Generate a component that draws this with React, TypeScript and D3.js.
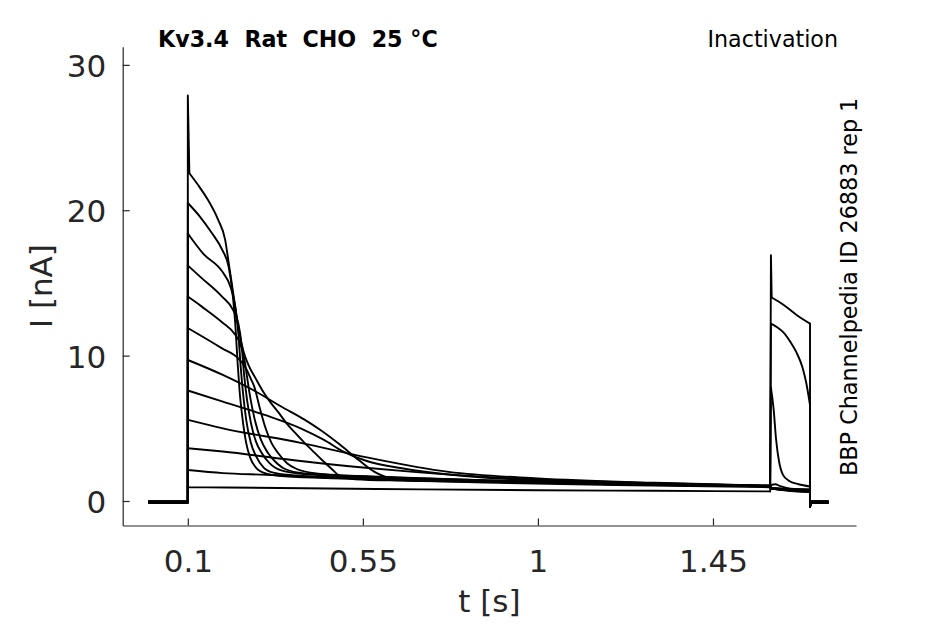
import React, { useEffect, useRef } from 'react';
import * as d3 from 'd3';

type Pt = [number, number];

const timeTicks = [0.1, 0.55, 1, 1.45];
const currentTicks = [0, 10, 20, 30];

// protocol times [s]
const sweepStart = 0;
const prepulseOn = 0.1;
const testOn = 1.599;
const testOff = 1.6995;
const offRecover = 1.703;
const sweepEnd = 1.746;

// holding current per sweep and the small dip at the end of the test pulse [nA]
const holdingCurrents = [-0.02, -0.05, -0.08, -0.1, -0.04, -0.12, -0.06, -0.09, -0.03, -0.11, -0.07, -0.13];
const offDip = -0.38;

// current right at the prepulse onset, one per sweep
const onsetPeaks = [0.94, 2.13, 3.63, 5.58, 7.6, 9.7, 11.9, 14.06, 16.2, 18.4, 20.5, 27.9];
// current right at the test pulse onset
const testPeaks = [16.9, 12.2, 7.8, 1.1, 0.9, 0.9, 0.9, 0.85, 0.85, 0.85, 0.85, 0.85];

// prepulse traces (t [s], I [nA])
const prepulse01: Pt[] = [[0.1, 0.94], [0.2, 0.93], [0.4, 0.88], [0.7, 0.8], [1.0, 0.74], [1.3, 0.7], [1.597, 0.66]];
const prepulse02: Pt[] = [[0.1, 2.13], [0.19, 1.92], [0.3, 1.8], [0.45, 1.62], [0.65, 1.42], [0.9, 1.25], [1.2, 1.1], [1.597, 0.95]];
const prepulse03: Pt[] = [[0.1, 3.63], [0.19, 3.4], [0.39, 2.75], [0.55, 2.3], [0.68, 2.0], [0.9, 1.6], [1.2, 1.3], [1.597, 1.05]];
const prepulse04: Pt[] = [[0.1, 5.58], [0.19, 5.0], [0.39, 4.0], [0.56, 3.0], [0.77, 2.0], [1.0, 1.55], [1.3, 1.25], [1.597, 1.05]];
const prepulse05: Pt[] = [[0.1, 7.6], [0.19, 6.83], [0.3, 5.9], [0.39, 5.0], [0.45, 4.2], [0.5, 3.4], [0.56, 2.75], [0.65, 2.25], [0.82, 1.7], [1.07, 1.35], [1.3, 1.2], [1.597, 1.05]];
const prepulse06: Pt[] = [[0.1, 9.7], [0.19, 8.67], [0.27, 7.6], [0.34, 6.5], [0.4, 5.6], [0.44, 4.9], [0.49, 3.9], [0.54, 2.8], [0.58, 2.0], [0.62, 1.6], [0.75, 1.45], [1.0, 1.3], [1.3, 1.15], [1.597, 1.05]];
const prepulse07: Pt[] = [[0.1, 11.9], [0.188, 10.5], [0.23, 9.8], [0.25, 9.1], [0.262, 8.4], [0.271, 7.85], [0.285, 6.4], [0.3, 5.0], [0.315, 4.0], [0.332, 3.3], [0.355, 2.6], [0.38, 2.2], [0.43, 1.9], [0.6, 1.65], [0.9, 1.4], [1.25, 1.18], [1.597, 1.02]];
const prepulse08: Pt[] = [[0.1, 14.06], [0.136, 13.37], [0.188, 12.3], [0.22, 11.5], [0.235, 10.8], [0.245, 9.8], [0.253, 8.4], [0.26, 7.2], [0.272, 5.6], [0.288, 4.2], [0.306, 3.3], [0.325, 2.7], [0.35, 2.2], [0.4, 1.9], [0.6, 1.65], [0.9, 1.4], [1.25, 1.18], [1.597, 1.02]];
const prepulse09: Pt[] = [[0.1, 16.2], [0.135, 15.35], [0.188, 14.06], [0.215, 13.2], [0.23, 12.2], [0.238, 10.8], [0.245, 8.6], [0.252, 7.0], [0.262, 5.4], [0.275, 4.1], [0.29, 3.3], [0.31, 2.6], [0.34, 2.1], [0.4, 1.85], [0.6, 1.6], [0.9, 1.38], [1.25, 1.17], [1.597, 1.02]];
const prepulse10: Pt[] = [[0.1, 18.4], [0.14, 17.0], [0.188, 15.8], [0.21, 14.7], [0.223, 13.2], [0.23, 11.5], [0.236, 9.2], [0.242, 7.4], [0.25, 5.6], [0.262, 4.0], [0.275, 3.1], [0.295, 2.3], [0.32, 1.95], [0.38, 1.75], [0.55, 1.55], [0.85, 1.35], [1.2, 1.15], [1.597, 1.0]];
const prepulse11: Pt[] = [[0.1, 20.5], [0.13, 19.6], [0.16, 18.5], [0.188, 17.3], [0.205, 16.1], [0.215, 14.3], [0.222, 12.2], [0.228, 9.5], [0.233, 7.6], [0.24, 5.8], [0.25, 4.0], [0.26, 3.0], [0.275, 2.3], [0.3, 1.9], [0.35, 1.7], [0.5, 1.55], [0.8, 1.35], [1.2, 1.15], [1.597, 1.0]];
const prepulse12: Pt[] = [[0.104, 22.55], [0.126, 21.75], [0.152, 20.7], [0.178, 19.34], [0.196, 17.96], [0.205, 16.4], [0.218, 14.06], [0.231, 11.77], [0.243, 10.3], [0.257, 9.3], [0.275, 8.4], [0.291, 7.64], [0.312, 6.8], [0.334, 6.06], [0.355, 5.3], [0.376, 4.68], [0.4, 4.0], [0.419, 3.5], [0.445, 2.82], [0.47, 2.2], [0.491, 1.72], [0.53, 1.5], [0.65, 1.4], [0.9, 1.3], [1.25, 1.12], [1.597, 1.0]];

// test pulse traces
const test01: Pt[] = [[1.601, 14.0], [1.631, 13.5], [1.665, 12.8], [1.6995, 12.2]];
const test02: Pt[] = [[1.599, 12.2], [1.615, 11.95], [1.631, 11.6], [1.65, 10.9], [1.665, 10.2], [1.68, 9.2], [1.69, 8.1], [1.6995, 6.6]];
const test03: Pt[] = [[1.599, 7.8], [1.606, 6.3], [1.612, 4.3], [1.62, 2.7], [1.63, 1.8], [1.645, 1.4], [1.67, 1.15], [1.6995, 1.0]];
const test04: Pt[] = [[1.599, 1.1], [1.61, 1.15], [1.625, 1.0], [1.65, 0.85], [1.6995, 0.8]];
const test05: Pt[] = [[1.599, 0.9], [1.65, 0.82], [1.6995, 0.78]];
const test06: Pt[] = [[1.599, 0.9], [1.65, 0.8], [1.6995, 0.75]];
const test07: Pt[] = [[1.599, 0.9], [1.65, 0.78], [1.6995, 0.72]];
const test08: Pt[] = [[1.599, 0.85], [1.65, 0.76], [1.6995, 0.7]];
const test09: Pt[] = [[1.599, 0.85], [1.65, 0.74], [1.6995, 0.68]];
const test10: Pt[] = [[1.599, 0.85], [1.65, 0.72], [1.6995, 0.66]];
const test11: Pt[] = [[1.599, 0.85], [1.65, 0.7], [1.6995, 0.64]];
const test12: Pt[] = [[1.599, 0.85], [1.65, 0.68], [1.6995, 0.62]];

const prepulseSweeps = [prepulse01, prepulse02, prepulse03, prepulse04, prepulse05, prepulse06, prepulse07, prepulse08, prepulse09, prepulse10, prepulse11, prepulse12];
const testSweeps = [test01, test02, test03, test04, test05, test06, test07, test08, test09, test10, test11, test12];

const FONT = 'DejaVu Sans';
const AXIS_COLOR = '#262626';

export default function App() {
  const svgRef = useRef<SVGSVGElement>(null);

  useEffect(() => {
    if (!svgRef.current) return;
    const svg = d3.select(svgRef.current);
    svg.selectAll('*').remove();

    const x = d3.scaleLinear().domain([-0.0674, 1.8177]).range([122.7, 856]);
    const y = d3.scaleLinear().domain([-1.686, 31.25]).range([525.5, 46.7]);

    const lin = d3.line<Pt>().x(d => x(d[0])).y(d => y(d[1]));
    const smooth = d3.line<Pt>().x(d => x(d[0])).y(d => y(d[1])).curve(d3.curveMonotoneX);

    const traces = svg.append('g')
      .attr('fill', 'none')
      .attr('stroke', '#000')
      .attr('stroke-width', 1.9)
      .attr('stroke-linejoin', 'round')
      .attr('stroke-linecap', 'round');

    prepulseSweeps.forEach((pre, i) => {
      const test = testSweeps[i];
      const hold = holdingCurrents[i];
      const segs: [Pt[], boolean][] = [
        [[[sweepStart, hold], [prepulseOn, hold], [prepulseOn, onsetPeaks[i]], pre[0]], false],
        [pre, true],
        [[pre[pre.length - 1], [testOn, testPeaks[i]], test[0]], false],
        [test, true],
        [[test[test.length - 1], [testOff, offDip], [offRecover, hold], [sweepEnd, hold]], false],
      ];
      segs.forEach(([pts, isSmooth]) => {
        traces.append('path').attr('d', (isSmooth ? smooth : lin)(pts));
      });
    });

    // axes, ticks pointing inward
    const yAxis = svg.append('g')
      .attr('transform', `translate(${x.range()[0]},0)`)
      .call(d3.axisLeft(y).tickValues(currentTicks).tickSize(-7).tickSizeOuter(0).tickPadding(16.5).tickFormat(d => String(d)));
    const xAxis = svg.append('g')
      .attr('transform', `translate(0,${y.range()[0]})`)
      .call(d3.axisBottom(x).tickValues(timeTicks).tickSize(-7).tickSizeOuter(0).tickPadding(24).tickFormat(d => String(d)));

    [yAxis, xAxis].forEach(ax => {
      ax.attr('font-family', FONT).attr('font-size', 31);
      ax.select('.domain').attr('stroke', AXIS_COLOR).attr('stroke-width', 1.2);
      ax.selectAll('.tick line').attr('stroke', AXIS_COLOR).attr('stroke-width', 1.2);
      ax.selectAll('.tick text').attr('fill', AXIS_COLOR);
    });
    yAxis.selectAll('.tick text').attr('dy', '0.37em');

    // axis labels
    svg.append('text')
      .attr('transform', `translate(51.5,${(y.range()[0] + y.range()[1]) / 2}) rotate(-90)`)
      .attr('text-anchor', 'middle')
      .attr('font-family', FONT).attr('font-size', 31).attr('fill', AXIS_COLOR)
      .text('I [nA]');
    svg.append('text')
      .attr('x', (x.range()[0] + x.range()[1]) / 2).attr('y', 612)
      .attr('text-anchor', 'middle')
      .attr('font-family', FONT).attr('font-size', 31).attr('fill', AXIS_COLOR)
      .text('t [s]');

    // annotations
    svg.append('text')
      .attr('x', 158).attr('y', 47)
      .attr('font-family', FONT).attr('font-size', 22.2).attr('font-weight', 'bold')
      .style('white-space', 'pre')
      .text('Kv3.4  Rat  CHO  25 °C');
    svg.append('text')
      .attr('x', 838).attr('y', 46.7)
      .attr('text-anchor', 'end')
      .attr('font-family', FONT).attr('font-size', 22.2)
      .text('Inactivation');
    svg.append('text')
      .attr('transform', 'translate(857,476) rotate(-90)')
      .attr('font-family', FONT).attr('font-size', 22.3)
      .text('BBP Channelpedia ID 26883 rep 1');
  }, []);

  return (
    <div style={{ position: 'absolute', left: 0, top: 0 }}>
      <svg ref={svgRef} width={945} height={624} style={{ display: 'block', background: '#fff' }} />
    </div>
  );
}
